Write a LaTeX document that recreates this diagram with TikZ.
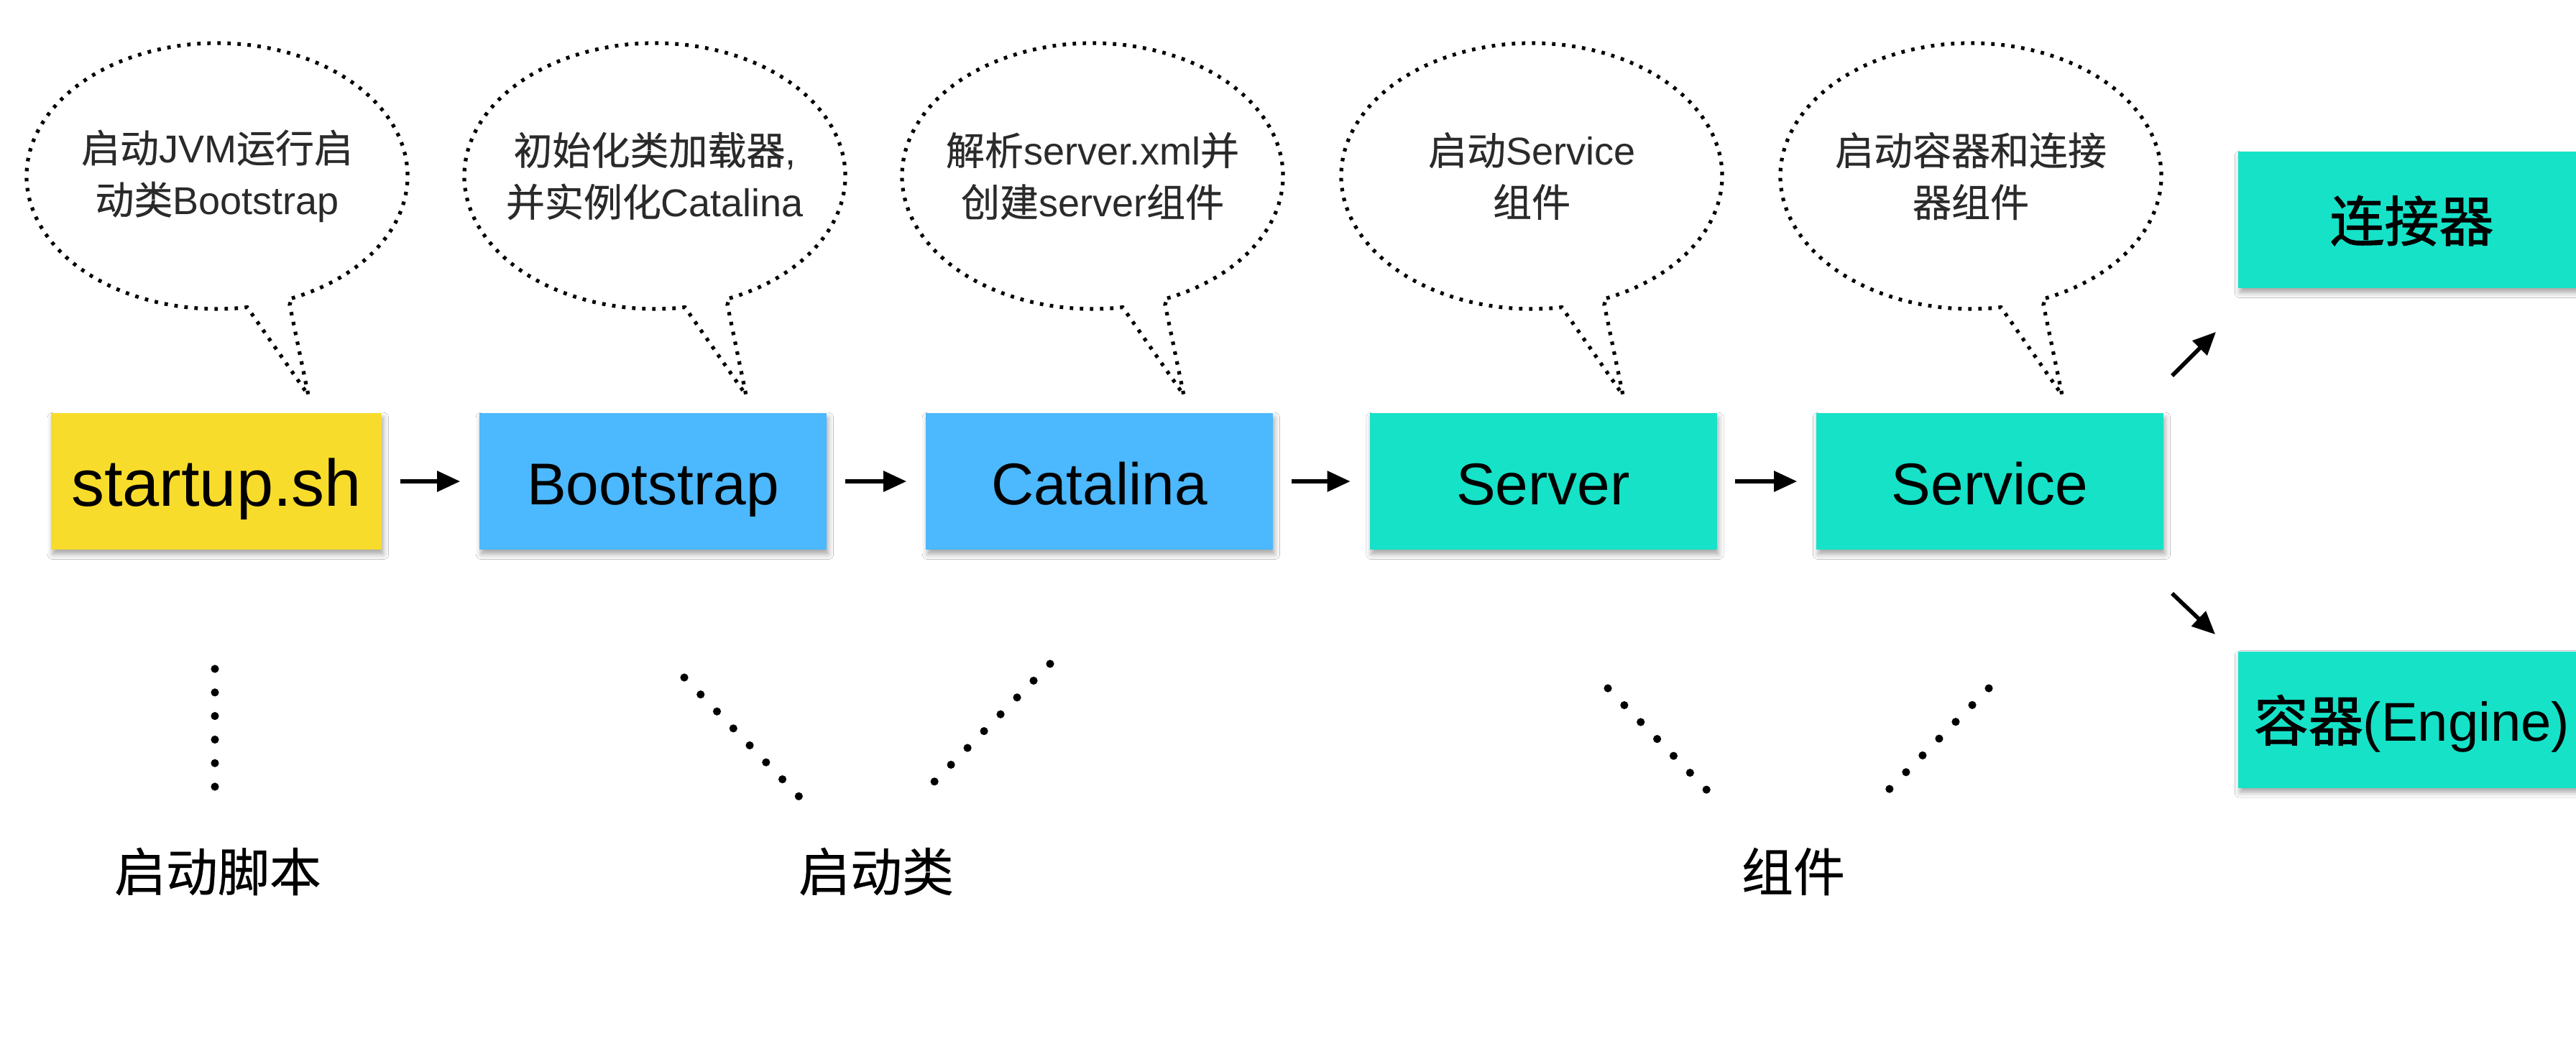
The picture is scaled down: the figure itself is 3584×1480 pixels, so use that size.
\documentclass[tikz,border=0pt]{standalone}
\usepackage{fontspec}
\setmainfont{Liberation Sans}
\newfontfamily\cjk[FakeBold=0.4]{Noto Sans CJK SC}
\newfontfamily\cjkm[FakeBold=1.3]{Noto Sans CJK SC}
\usetikzlibrary{arrows.meta,shadows.blur}
\definecolor{ylw}{HTML}{F8DC2B}
\definecolor{blu}{HTML}{4CB8FE}
\definecolor{tea}{HTML}{16E2C8}
\definecolor{txtg}{HTML}{2A2A2A}
\newcommand\speechb[1]{%
  \draw[bubbleline] (#1,-245) ++(-66.9:265 and 185)
    arc[start angle=-66.9, end angle=279.1, x radius=265, y radius=185]
    -- ({#1+127},-550) -- ({#1+101},-424) -- cycle;}
\begin{document}
\begin{tikzpicture}[x=0.25pt,y=0.25pt,
  box/.style={rectangle, minimum width=120.75pt, minimum height=47.5pt, inner sep=0pt,
    text height=16pt, text depth=0pt,
    font=\fontsize{20.5}{24}\selectfont,
    blur shadow={shadow xshift=0.6pt, shadow yshift=-1.6pt, shadow blur radius=1.8pt, shadow opacity=35}},
  bubbletext/.style={align=center, text=txtg, font=\fontsize{13.5}{18}\selectfont},
  bubbleline/.style={line width=1.3pt, dash pattern=on 1.2pt off 2.3pt, black},
  guide/.style={line width=2.8pt, dash pattern=on 0pt off 8.2pt, line cap=round},
  arr/.style={line width=1.4pt, -{Triangle[length=8pt,width=7pt]}},
  grp/.style={font=\cjk\fontsize{18}{22}\selectfont}]
\fill[white] (0,0) rectangle (3584,-1480);
\useasboundingbox (0,0) rectangle (3584,-1480);

% bubbles
\speechb{302}
\speechb{911}
\speechb{1520}
\speechb{2131}
\speechb{2742}
\node[bubbletext] (t1) at (302,-245) {{\cjk 启动}JVM{\cjk 运行启}\\{\cjk 动类}Bootstrap};
\node[bubbletext] (t2) at (911,-245) {{\cjk 初始化类加载器},\\{\cjk 并实例化}Catalina};
\node[bubbletext] (t3) at (1520,-245) {{\cjk 解析}server.xml{\cjk 并}\\{\cjk 创建}server{\cjk 组件}};
\node[bubbletext] (t4) at (2131,-245) {{\cjk 启动}Service\\{\cjk 组件}};
\node[bubbletext] (t5) at (2742,-245) {{\cjk 启动容器和连接}\\{\cjk 器组件}};

% boxes
\node[box, fill=ylw, minimum width=115pt, text height=17pt, font=\fontsize{23}{26}\selectfont] (s) at (301,-670) {startup.sh};
\node[box, fill=blu] (b) at (908.5,-670) {Bootstrap};
\node[box, fill=blu] (c) at (1529.5,-670) {Catalina};
\node[box, fill=tea] (sv) at (2147,-670) {Server};
\node[box, fill=tea] (se) at (2768.5,-670) {Service};
\node[box, fill=tea, font=\fontsize{19}{22}\selectfont, text height=15pt] (cn) at (3355.5,-306) {{\cjkm 连接器}};
\node[box, fill=tea, font=\fontsize{19}{22}\selectfont, text height=15pt] (en) at (3355.5,-1001.5) {{\cjkm 容器}(Engine)};

% arrows
\draw[arr, shorten <=6.25pt, shorten >=6.5pt] (s) -- (b);
\draw[arr, shorten <=6.25pt, shorten >=6.5pt] (b) -- (c);
\draw[arr, shorten <=6.25pt, shorten >=6.5pt] (c) -- (sv);
\draw[arr, shorten <=6.25pt, shorten >=6.5pt] (sv) -- (se);
\coordinate (u1) at (3022,-523);
\coordinate (u2) at (3083,-462);
\coordinate (d1) at (3022,-826);
\coordinate (d2) at (3082,-883);
\draw[arr] (u1) -- (u2);
\draw[arr] (d1) -- (d2);

% group guides
\draw[guide] (299,-931) -- (299,-1099);
\draw[guide] (952,-943) -- (1112,-1109);
\draw[guide] (1461,-924) -- (1299,-1089);
\draw[guide] (2237,-958) -- (2376,-1101);
\draw[guide] (2767,-958) -- (2628,-1099);

\node[grp] (g1) at (303,-1213) {启动脚本};
\node[grp] (g2) at (1219,-1213) {启动类};
\node[grp] (g3) at (2495,-1213) {组件};
\end{tikzpicture}
\end{document}
